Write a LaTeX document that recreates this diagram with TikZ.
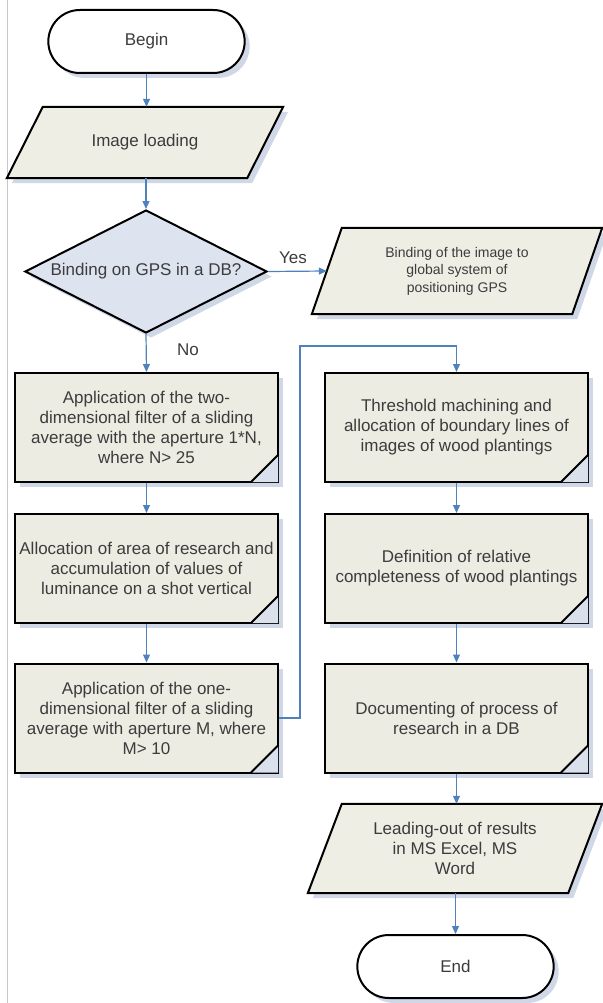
\documentclass[tikz,border=0pt]{standalone}
\usepackage{fontspec}
\setmainfont{Liberation Sans}
\usetikzlibrary{arrows.meta,shapes.geometric,shapes.misc,shadows,backgrounds,calc}
\definecolor{txt}{RGB}{60,60,60}
\definecolor{boxfill}{RGB}{236,236,226}
\definecolor{parafill}{RGB}{238,238,229}
\definecolor{decfill}{RGB}{222,227,240}
\definecolor{arrowblue}{RGB}{79,129,189}
\definecolor{shadowc}{RGB}{208,216,232}
\definecolor{foldc}{RGB}{218,224,236}
\newcommand\bigfont{\fontsize{17}{20}\selectfont}
\newcommand\smallfont{\fontsize{14}{17.5}\selectfont}
\tikzset{
  myshadow/.style={drop shadow={shadow xshift=5pt,shadow yshift=-5pt,fill=shadowc,opacity=1}},
  terminal/.style={rounded rectangle, draw=black, line width=2pt, fill=white,
    minimum width=203pt, minimum height=63pt, font=\bigfont, text=txt, myshadow},
  stepbox/.style={rectangle, draw=black, line width=2pt, fill=boxfill,
    minimum width=263pt, minimum height=109pt, inner sep=0pt, align=center,
    font=\bigfont, text=txt, myshadow},
  decision/.style={diamond, aspect=1.97, draw=black, line width=2pt, fill=decfill,
    minimum width=242pt, minimum height=123pt, inner sep=0pt, font=\bigfont,
    text=txt, myshadow},
  paratext/.style={rectangle, inner sep=0pt, align=center, text=txt},
  flow/.style={draw=arrowblue, line width=1.2pt, -{Triangle[length=8pt,width=7pt]}},
  para/.style={draw=black, line width=2pt, fill=parafill, line join=miter},
  foldline/.style={draw=black, line width=2pt},
  lbl/.style={font=\bigfont, text=txt},
}
\newcommand\drawpara[2]{%
  \fill[shadowc] ($(#1.north west)+(#2+5,5)$) -- ($(#1.north east)+(5,5)$)
    -- ($(#1.south east)+(-#2+5,5)$) -- ($(#1.south west)+(5,5)$) -- cycle;
  \draw[para] ($(#1.north west)+(#2,0)$) -- (#1.north east)
    -- ($(#1.south east)+(-#2,0)$) -- (#1.south west) -- cycle;}
\newcommand\boxfold[1]{%
  \fill[foldc] ($(#1.south east)+(-27,-1)$) -- ($(#1.south east)+(-1,-1)$) -- ($(#1.south east)+(-1,-27)$) -- cycle;
  \draw[foldline] ($(#1.south east)+(-28,-1)$) -- ($(#1.south east)+(-1,-28)$);}
\begin{document}
\begin{tikzpicture}[x=1pt,y=-1pt]
\useasboundingbox (0,0) rectangle (602,1003);

% nodes
\node[terminal] (begin) at (146.5,41.5) {Begin};
\node[paratext, minimum width=276pt, minimum height=71pt, font=\bigfont] (load) at (145,142.5) {Image loading};
\node[decision] (dec) at (146,271.5) {Binding on GPS in a DB?};
\node[paratext, minimum width=290pt, minimum height=86pt, font=\smallfont] (gps) at (457,271) {Binding of the image to\\global system of\\positioning GPS};
\node[stepbox] (b1) at (146.5,427.5) {Application of the two-\\dimensional filter of a sliding\\average with the aperture 1*N,\\where N> 25};
\node[stepbox] (b2) at (146.5,568.5) {Allocation of area of research and\\accumulation of values of\\luminance on a shot vertical};
\node[stepbox] (b3) at (146.5,718) {Application of the one-\\dimensional filter of a sliding\\average with aperture M, where\\M> 10};
\node[stepbox] (b4) at (456.5,427.5) {Threshold machining and\\allocation of boundary lines of\\images of wood plantings};
\node[stepbox] (b5) at (456.5,568.5) {Definition of relative\\completeness of wood plantings};
\node[stepbox] (b6) at (456.5,718) {Documenting of process of\\research in a DB};
\node[paratext, minimum width=294pt, minimum height=89pt, font=\bigfont] (out) at (455,848.5) {Leading-out of results\\in MS Excel, MS\\Word};
\node[terminal] (end) at (455.5,966.5) {End};

\begin{scope}[on background layer]
  \draw[black!22, line width=1pt] (7,0) -- (7,1003);
  \drawpara{load}{36}
  \drawpara{gps}{30}
  \drawpara{out}{34}
\end{scope}

\boxfold{b1}\boxfold{b2}\boxfold{b3}\boxfold{b4}\boxfold{b5}\boxfold{b6}

% connectors
\coordinate (c1) at (300,346);
\draw[flow] (begin.south) -- (begin.south |- load.north);
\draw[flow] (dec.north |- load.south) -- (dec.north);
\draw[flow] (dec.east) -- ($(gps.west)+(15,0)$);
\draw[flow] (dec.south) -- (b1.north);
\draw[flow] (b1.south) -- (b2.north);
\draw[flow] (b2.south) -- (b3.north);
\draw[flow] (b3.east) -| (c1) -| (b4.north);
\draw[flow] (b4.south) -- (b5.north);
\draw[flow] (b5.south) -- (b6.north);
\draw[flow] (b6.south) -- (b6.south |- out.north);
\draw[flow] (end.north |- out.south) -- (end.north);

% labels
\node[lbl] (yes) at (293,258) {Yes};
\node[lbl] (no) at (188,350) {No};
\end{tikzpicture}
\end{document}
